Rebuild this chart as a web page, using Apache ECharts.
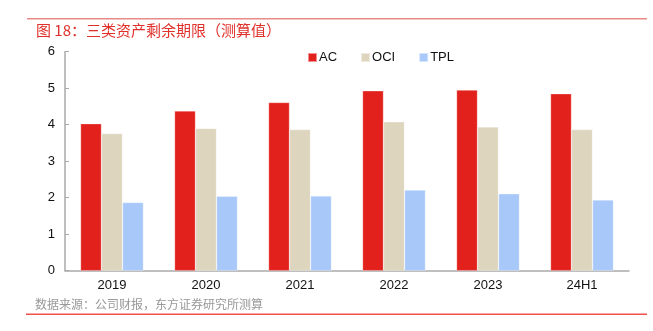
<!DOCTYPE html>
<html><head><meta charset="utf-8">
<script src="https://cdn.jsdelivr.net/npm/echarts@6/dist/echarts.min.js"></script>
<style>html,body{margin:0;padding:0;background:#fff}#c{width:653px;height:331px}</style>
</head><body><div id="c"></div>
<script>
const categories = ['2019','2020','2021','2022','2023','24H1'];
const acValues  = [4.03, 4.38, 4.61, 4.93, 4.95, 4.85];
const ociValues = [3.76, 3.90, 3.87, 4.08, 3.94, 3.87];
const tplValues = [1.87, 2.04, 2.05, 2.21, 2.11, 1.94];
const yTicks = [0,1,2,3,4,5,6];

const chart = echarts.init(document.getElementById('c'), null, {renderer:'canvas'});
const lbl = {color:'#111', fontSize:13, fontFamily:'Liberation Sans, Arial, sans-serif'};
function bar(name, data, color){
  return {name, type:'bar', data, barGap:'0%', barCategoryGap:'33%',
    itemStyle:{color, borderColor:'rgba(255,255,255,0.5)', borderWidth:0.6}};
}
chart.setOption({
  animation:false,
  grid:{left:65, right:24, top:51.7, bottom:60.3},
  legend:{top:46, left:302, itemWidth:9, itemHeight:9, itemGap:23, icon:'rect',
    textStyle:{color:'#111', fontSize:13, fontFamily:'Liberation Sans, Arial, sans-serif', padding:[0,0,0,-3]},
    data:['AC','OCI','TPL']},
  xAxis:{type:'category', data:categories,
    axisLine:{lineStyle:{color:'#aaa', width:1.5}},
    axisTick:{inside:true, length:4, lineStyle:{color:'#aaa'}},
    axisLabel:Object.assign({margin:8}, lbl)},
  yAxis:{type:'value', min:yTicks[0], max:yTicks[yTicks.length-1], interval:1,
    axisLine:{show:true, lineStyle:{color:'#aaa', width:1.5}},
    axisTick:{show:true, inside:true, length:4, lineStyle:{color:'#aaa'}},
    splitLine:{show:false},
    axisLabel:Object.assign({margin:10}, lbl)},
  series:[bar('AC', acValues, '#e2211c'), bar('OCI', ociValues, '#ded5be'), bar('TPL', tplValues, '#a8c8fa')],
  graphic:[
    {type:'rect', shape:{x:27, y:18, width:620, height:1.5}, style:{fill:'#e98a86'}},
    {type:'text', left:36, top:23, style:{text:'图 18：三类资产剩余期限（测算值）', fill:'#e0302a', font:'15px "Noto Sans CJK SC", sans-serif'}},
    {type:'text', left:35, top:298, style:{text:'数据来源：公司财报，东方证券研究所测算', fill:'#999', font:'12px "Noto Sans CJK SC", sans-serif'}},
    {type:'rect', shape:{x:26, y:313.5, width:621, height:1.5}, style:{fill:'#f0504a'}}
  ]
});
</script></body></html>
